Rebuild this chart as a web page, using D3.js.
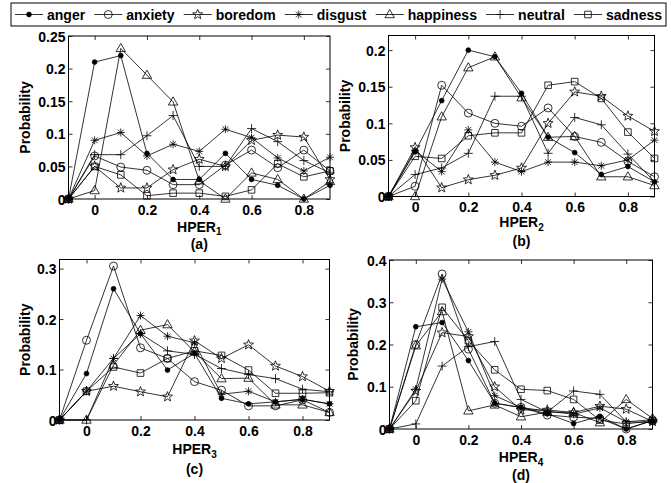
<!DOCTYPE html>
<html>
<head>
<meta charset="utf-8">
<script src="https://cdn.jsdelivr.net/npm/d3@7"></script>
<style>
  body { margin: 0; background: #fff; }
  svg text { font-family: "Liberation Sans", Arial, sans-serif; font-weight: bold; fill: #000; }
</style>
</head>
<body>
<svg id="chart" width="671" height="483"></svg>
<script>
// ---- data -------------------------------------------------------------
const emotions = ["anger", "anxiety", "boredom", "disgust", "happiness", "neutral", "sadness"];
const hperLevels = [-0.1, 0, 0.1, 0.2, 0.3, 0.4, 0.5, 0.6, 0.7, 0.8, 0.9];
const xTickValues = [0, 0.2, 0.4, 0.6, 0.8];

// Each row follows the order of `emotions`.
const hper1 = [
  [0, 0.210, 0.220, 0.070, 0.030, 0.030, 0.070, 0.030, 0.021, 0.000, 0.021],
  [0, 0.066, 0.049, 0.044, 0.022, 0.022, 0.052, 0.075, 0.048, 0.075, 0.043],
  [0, 0.050, 0.017, 0.017, 0.045, 0.061, 0.050, 0.090, 0.098, 0.095, 0.030],
  [0, 0.090, 0.102, 0.066, 0.084, 0.073, 0.107, 0.094, 0.063, 0.043, 0.064],
  [0, 0.013, 0.231, 0.190, 0.149, 0.028, 0.000, 0.040, 0.030, 0.000, 0.027],
  [0, 0.068, 0.068, 0.097, 0.128, 0.050, 0.050, 0.108, 0.088, 0.059, 0.040],
  [0, 0.050, 0.037, 0.005, 0.009, 0.009, 0.004, 0.014, 0.054, 0.034, 0.043]
];
const hper2 = [
  [0, 0.061, 0.131, 0.200, 0.191, 0.141, 0.081, 0.060, 0.030, 0.041, 0.020],
  [0, 0.014, 0.152, 0.114, 0.100, 0.096, 0.121, 0.082, 0.074, 0.048, 0.027],
  [0, 0.067, 0.012, 0.023, 0.029, 0.039, 0.100, 0.143, 0.137, 0.110, 0.089],
  [0, 0.063, 0.034, 0.091, 0.047, 0.034, 0.047, 0.047, 0.042, 0.050, 0.077],
  [0, 0.000, 0.109, 0.176, 0.191, 0.135, 0.081, 0.082, 0.027, 0.027, 0.015],
  [0, 0.030, 0.039, 0.059, 0.137, 0.137, 0.059, 0.108, 0.098, 0.058, 0.020],
  [0, 0.055, 0.052, 0.083, 0.087, 0.087, 0.152, 0.157, 0.134, 0.088, 0.052]
];
const hper3 = [
  [0, 0.092, 0.260, 0.171, 0.099, 0.132, 0.043, 0.032, 0.036, 0.041, 0.032],
  [0, 0.158, 0.305, 0.143, 0.122, 0.076, 0.059, 0.028, 0.028, 0.040, 0.015],
  [0, 0.057, 0.067, 0.056, 0.046, 0.157, 0.122, 0.149, 0.107, 0.086, 0.057],
  [0, 0.057, 0.122, 0.207, 0.166, 0.153, 0.051, 0.057, 0.036, 0.041, 0.032],
  [0, 0.000, 0.109, 0.178, 0.189, 0.135, 0.082, 0.083, 0.030, 0.030, 0.015],
  [0, 0.000, 0.122, 0.171, 0.137, 0.130, 0.102, 0.090, 0.082, 0.061, 0.056],
  [0, 0.057, 0.105, 0.093, 0.122, 0.137, 0.128, 0.099, 0.053, 0.053, 0.054]
];
const hper4 = [
  [0, 0.242, 0.252, 0.162, 0.061, 0.051, 0.036, 0.013, 0.030, 0.000, 0.020],
  [0, 0.200, 0.367, 0.189, 0.061, 0.051, 0.033, 0.028, 0.025, 0.000, 0.020],
  [0, 0.090, 0.228, 0.219, 0.100, 0.045, 0.045, 0.039, 0.054, 0.047, 0.018],
  [0, 0.094, 0.355, 0.230, 0.079, 0.051, 0.042, 0.035, 0.050, 0.017, 0.015],
  [0, 0.197, 0.278, 0.043, 0.057, 0.029, 0.040, 0.039, 0.015, 0.070, 0.025],
  [0, 0.012, 0.149, 0.195, 0.207, 0.070, 0.040, 0.090, 0.082, 0.017, 0.022],
  [0, 0.067, 0.288, 0.209, 0.140, 0.094, 0.091, 0.070, 0.021, 0.012, 0.020]
];

const yTicks1 = [0, 0.05, 0.1, 0.15, 0.2, 0.25];
const yTicks2 = [0, 0.05, 0.1, 0.15, 0.2];
const yTicks3 = [0, 0.1, 0.2, 0.3];
const yTicks4 = [0, 0.1, 0.2, 0.3, 0.4];
const yLimits = [0.25, 0.22, 0.318, 0.4];
const subscripts = ["1", "2", "3", "4"];
const panelTags = ["(a)", "(b)", "(c)", "(d)"];

// ---- layout -----------------------------------------------------------
const svg = d3.select("#chart");
const FONT = 14;
const TICK = 4;

const panels = [
  { data: hper1, ticks: yTicks1, left: 68.5, right: 330, top: 36, bottom: 199, ylabX: 25, xlabY: 231.5, tagY: 248.5 },
  { data: hper2, ticks: yTicks2, left: 388.5, right: 654.5, top: 35.5, bottom: 196.5, ylabX: 345, xlabY: 227, tagY: 245.5 },
  { data: hper3, ticks: yTicks3, left: 59.5, right: 329.5, top: 259.5, bottom: 420, ylabX: 25, xlabY: 454, tagY: 473.5 },
  { data: hper4, ticks: yTicks4, left: 389.5, right: 652.5, top: 260, bottom: 429, ylabX: 353, xlabY: 462, tagY: 480 }
];

// ---- marker shapes (one per emotion) ----------------------------------
function starPath(R, r) {
  const pts = [];
  for (let i = 0; i < 10; i++) {
    const a = -Math.PI / 2 + i * Math.PI / 5;
    const rad = i % 2 === 0 ? R : r;
    pts.push([rad * Math.cos(a), rad * Math.sin(a)]);
  }
  return "M" + pts.map(p => p[0].toFixed(2) + "," + p[1].toFixed(2)).join("L") + "Z";
}
const markerShapes = [
  { d: d3.symbol(d3.symbolCircle, 18)(), fill: "#000" },                 // filled dot
  { d: d3.symbol(d3.symbolCircle, 50)(), fill: "none" },                 // open circle
  { d: starPath(5.2, 2.2), fill: "none" },                               // pentagram
  { d: "M-4,0H4M0,-4V4M-2.9,-2.9L2.9,2.9M-2.9,2.9L2.9,-2.9", fill: "none" }, // asterisk
  { d: "M0,-5L4.7,3.2L-4.7,3.2Z", fill: "none" },                        // triangle
  { d: "M-4.5,0H4.5M0,-4.5V4.5", fill: "none" },                         // plus
  { d: "M-3.3,-3.3H3.3V3.3H-3.3Z", fill: "none" }                        // square
];

function drawMarker(g, k, x, y) {
  g.append("path")
    .attr("d", markerShapes[k].d)
    .attr("transform", `translate(${x},${y})`)
    .attr("fill", markerShapes[k].fill)
    .attr("stroke", "#000")
    .attr("stroke-width", 0.8);
}

const fmt = v => (v === 0 ? "0" : String(+v.toFixed(2)));

// ---- panels -------------------------------------------------------------
panels.forEach((p, i) => {
  const g = svg.append("g");
  const x = d3.scaleLinear().domain([-0.1, 0.9]).range([p.left, p.right]);
  const y = d3.scaleLinear().domain([0, yLimits[i]]).range([p.bottom, p.top]);

  // inward ticks on all four sides
  const axB = g.append("g").attr("transform", `translate(0,${p.bottom})`)
    .call(d3.axisBottom(x).tickValues(xTickValues).tickSize(-TICK).tickPadding(6).tickFormat(fmt));
  const axT = g.append("g").attr("transform", `translate(0,${p.top})`)
    .call(d3.axisTop(x).tickValues(xTickValues).tickSize(-TICK).tickFormat(""));
  const axL = g.append("g").attr("transform", `translate(${p.left},0)`)
    .call(d3.axisLeft(y).tickValues(p.ticks).tickSize(-TICK).tickPadding(3).tickFormat(fmt));
  const axR = g.append("g").attr("transform", `translate(${p.right},0)`)
    .call(d3.axisRight(y).tickValues(p.ticks).tickSize(-TICK).tickFormat(""));
  [axB, axT, axL, axR].forEach(a => {
    a.select(".domain").remove();
    a.selectAll(".tick line").attr("stroke", "#000").attr("stroke-width", 0.8);
    a.selectAll("text").attr("font-size", FONT).attr("font-family", null).attr("fill", "#000");
  });
  axL.selectAll("text").attr("dy", "0.36em");

  // frame
  g.append("rect")
    .attr("x", p.left).attr("y", p.top)
    .attr("width", p.right - p.left).attr("height", p.bottom - p.top)
    .attr("fill", "none").attr("stroke", "#000").attr("stroke-width", 1);

  // series
  const line = d3.line().x((d, j) => x(hperLevels[j])).y(d => y(d));
  p.data.forEach((vals, k) => {
    const s = g.append("g").attr("class", "series-" + emotions[k]);
    s.append("path").attr("d", line(vals))
      .attr("fill", "none").attr("stroke", "#000").attr("stroke-width", 0.8);
    vals.forEach((v, j) => drawMarker(s, k, x(hperLevels[j]), y(v)));
  });

  // axis titles
  g.append("text")
    .attr("transform", `translate(${p.ylabX},${(p.top + p.bottom) / 2}) rotate(-90)`)
    .attr("text-anchor", "middle").attr("dy", "0.36em")
    .attr("font-size", FONT).text("Probability");

  const xl = g.append("text")
    .attr("x", (p.left + p.right) / 2).attr("y", p.xlabY)
    .attr("text-anchor", "middle").attr("font-size", FONT);
  xl.append("tspan").text("HPER");
  xl.append("tspan").attr("font-size", 10).attr("dy", 3.5).text(subscripts[i]);

  g.append("text")
    .attr("x", (p.left + p.right) / 2).attr("y", p.tagY)
    .attr("text-anchor", "middle").attr("font-size", FONT).text(panelTags[i]);
});

// ---- legend -------------------------------------------------------------
const legendBox = { x: 11, y: 3, w: 655, h: 23 };
const leg = svg.append("g");
leg.append("rect")
  .attr("x", legendBox.x).attr("y", legendBox.y)
  .attr("width", legendBox.w).attr("height", legendBox.h)
  .attr("fill", "#fff").attr("stroke", "#000").attr("stroke-width", 1);

const midY = legendBox.y + legendBox.h / 2;
const texts = emotions.map(e => leg.append("text")
  .attr("font-size", FONT).attr("dy", "0.36em").attr("y", midY).text(e));
const widths = texts.map(t => t.node().getComputedTextLength());
const lineLen = 28, gapLT = 4, pad = 4;
const spare = (legendBox.w - 2 * pad - d3.sum(widths) - emotions.length * (lineLen + gapLT)) / (emotions.length - 1);
let cx = legendBox.x + pad;
emotions.forEach((e, k) => {
  leg.append("line")
    .attr("x1", cx).attr("x2", cx + lineLen).attr("y1", midY).attr("y2", midY)
    .attr("stroke", "#000").attr("stroke-width", 0.8);
  drawMarker(leg, k, cx + lineLen / 2, midY);
  texts[k].attr("x", cx + lineLen + gapLT);
  cx += lineLen + gapLT + widths[k] + spare;
});
</script>
</body>
</html>
